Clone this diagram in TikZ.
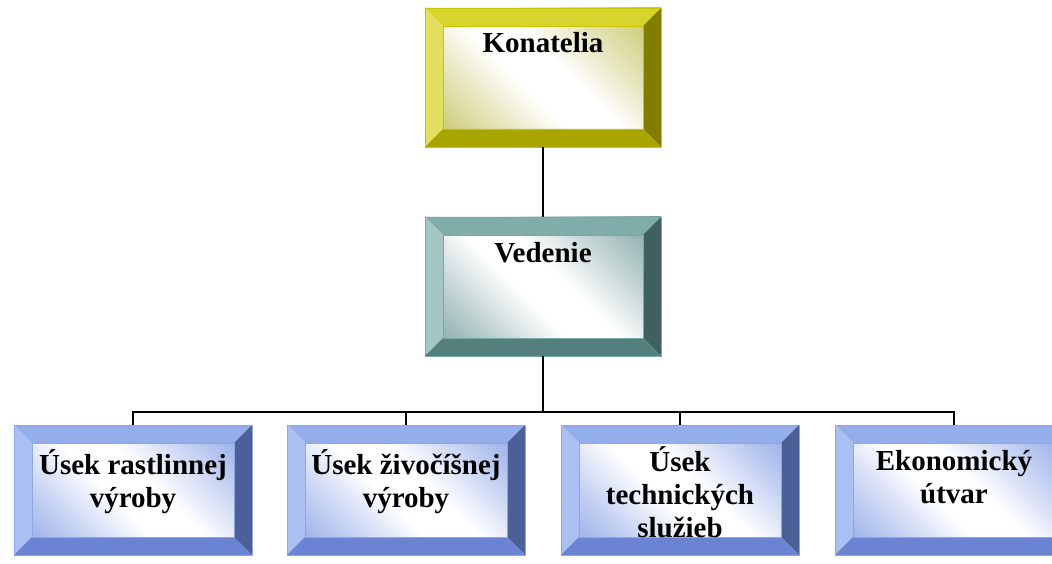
\documentclass[tikz,border=0pt]{standalone}
\usepackage{fontspec}
\setmainfont{Liberation Serif}
\usetikzlibrary{calc}

% yellow family (Konatelia)
\definecolor{Ytop}{HTML}{D8D42E}
\definecolor{Yleft}{HTML}{E2DE5E}
\definecolor{Yright}{HTML}{817D00}
\definecolor{Ybot}{HTML}{A9A500}
\definecolor{Yedge}{HTML}{C9C600}
\definecolor{Yshade}{HTML}{C4C262}
% teal family (Vedenie)
\definecolor{Ttop}{HTML}{80ACA9}
\definecolor{Tleft}{HTML}{A3C6C4}
\definecolor{Tright}{HTML}{3F605F}
\definecolor{Tbot}{HTML}{547F7C}
\definecolor{Tedge}{HTML}{78AAA7}
\definecolor{Tshade}{HTML}{7BA2A0}
% blue family (departments)
\definecolor{Btop}{HTML}{94AEEC}
\definecolor{Bleft}{HTML}{AABFF2}
\definecolor{Bright}{HTML}{4B5F98}
\definecolor{Bbot}{HTML}{6A83D2}
\definecolor{Bedge}{HTML}{8CA6E6}
\definecolor{Bshade}{HTML}{8AA3E6}

% diagonal face shadings: tinted corners, white middle band
\pgfdeclareverticalshading{Yface}{100bp}{color(0bp)=(Yshade); color(16bp)=(Yshade);
  color(31bp)=(Yshade!50!white); color(45bp)=(white); color(55bp)=(white);
  color(69bp)=(Yshade!50!white); color(84bp)=(Yshade); color(100bp)=(Yshade)}
\pgfdeclareverticalshading{Tface}{100bp}{color(0bp)=(Tshade); color(16bp)=(Tshade);
  color(31bp)=(Tshade!50!white); color(45bp)=(white); color(55bp)=(white);
  color(69bp)=(Tshade!50!white); color(84bp)=(Tshade); color(100bp)=(Tshade)}
\pgfdeclareverticalshading{Bface}{100bp}{color(0bp)=(Bshade); color(16bp)=(Bshade);
  color(31bp)=(Bshade!50!white); color(45bp)=(white); color(55bp)=(white);
  color(69bp)=(Bshade!50!white); color(84bp)=(Bshade); color(100bp)=(Bshade)}

\newcommand\bevelw{18pt}
% four bevel faces plus the inner frame, drawn inside the node's outline
\newcommand\drawbevels[1]{%
  \coordinate (pnw) at (path picture bounding box.north west);
  \coordinate (pne) at (path picture bounding box.north east);
  \coordinate (pse) at (path picture bounding box.south east);
  \coordinate (psw) at (path picture bounding box.south west);
  \coordinate (qnw) at ($(pnw)+(\bevelw,-\bevelw)$);
  \coordinate (qne) at ($(pne)+(-\bevelw,-\bevelw)$);
  \coordinate (qse) at ($(pse)+(-\bevelw,\bevelw)$);
  \coordinate (qsw) at ($(psw)+(\bevelw,\bevelw)$);
  \fill[#1top]   (pnw) -- (pne) -- (qne) -- (qnw) -- cycle;
  \fill[#1left]  (pnw) -- (qnw) -- (qsw) -- (psw) -- cycle;
  \fill[#1right] (pne) -- (pse) -- (qse) -- (qne) -- cycle;
  \fill[#1bot]   (psw) -- (qsw) -- (qse) -- (pse) -- cycle;
  \draw[#1edge, line width=0.7pt] (qnw) rectangle (qse);
}

\tikzset{
  bevelbox/.style={rectangle, inner sep=0pt, draw=#1edge, line width=0.8pt,
    shade, shading=#1face, shading angle=-45, path picture={\drawbevels{#1}}},
  topbox/.style={bevelbox=#1, minimum width=236pt, minimum height=139pt},
  deptbox/.style={bevelbox=B, minimum width=238pt, minimum height=130pt},
  lbl/.style={font=\bfseries\fontsize{29}{33}\selectfont, align=center,
    anchor=base, inner sep=0pt},
  link/.style={line width=1.6pt, black},
}

\begin{document}
\begin{tikzpicture}[x=1pt, y=-1pt]
  \clip (0,0) rectangle (1052,564);

  % boxes
  \node[topbox=Y] (kon) at (543,77.5) {};
  \node[topbox=T] (ved) at (543,286.5) {};
  \node[deptbox] (d1) at (133,490) {};
  \node[deptbox] (d2) at (406,490) {};
  \node[deptbox] (d3) at (680,490) {};
  \node[deptbox] (d4) at (954,490) {};

  % labels (base = baseline of the last line)
  \node[lbl] (kont) at (543,53) {Konatelia};
  \node[lbl] (vedt) at (543,262) {Vedenie};
  \node[lbl] (d1t) at (133,507) {Úsek rastlinnej\\výroby};
  \node[lbl] (d2t) at (406,507) {Úsek živočíšnej\\výroby};
  \node[lbl] (d3t) at (680,537) {Úsek\\technických\\služieb};
  \node[lbl] (d4t) at (954,503) {Ekonomický\\útvar};

  % connectors
  \coordinate (bus) at (543,412);
  \draw[link] (kon.south) -- (ved.north);
  \draw[link] (ved.south) -- (bus);
  \foreach \d in {d1,d2,d3,d4}
    \draw[link] (bus) -| (\d.north);
\end{tikzpicture}
\end{document}
